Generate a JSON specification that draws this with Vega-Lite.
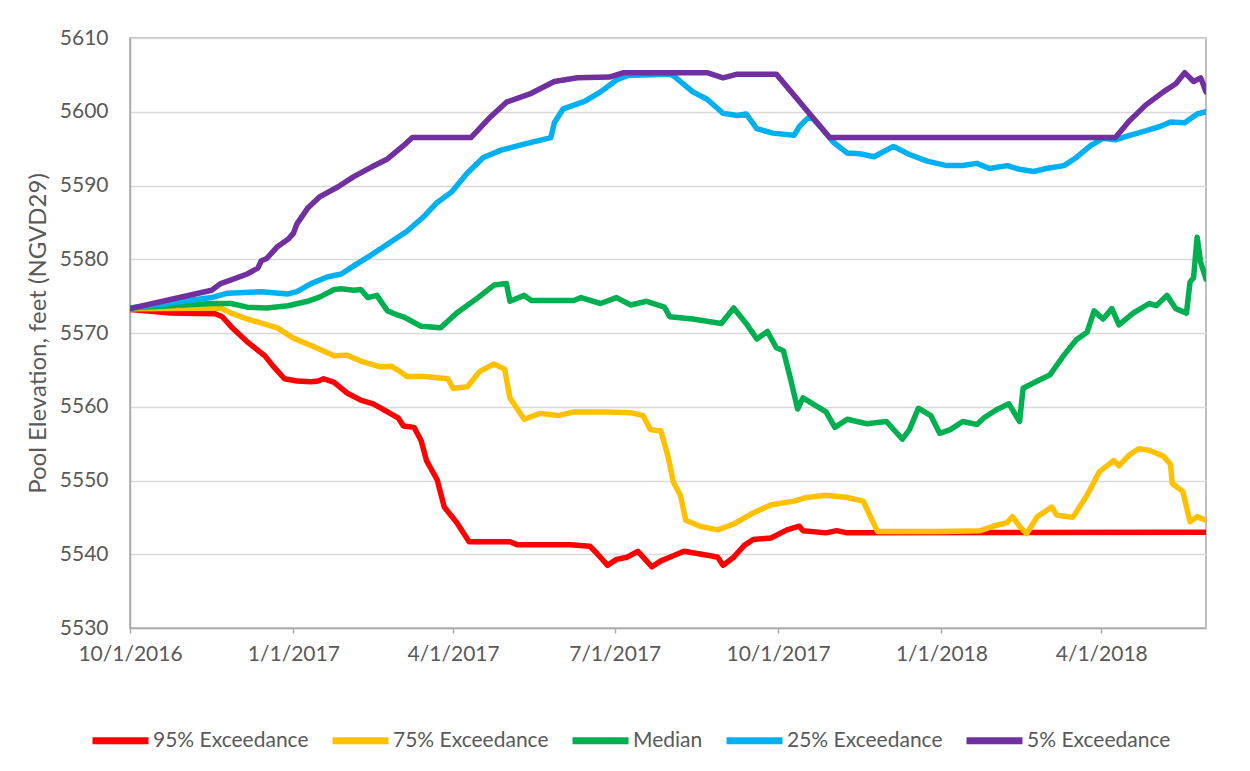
{
  "$schema": "https://vega.github.io/schema/vega-lite/v6.json",
  "width": 1076,
  "height": 590,
  "autosize": {"type": "none"},
  "padding": {"left": 130, "top": 38, "right": 44, "bottom": 143},
  "background": "white",
  "config": {
    "font": "Lato",
    "view": {"stroke": "#ABABAB", "strokeWidth": 1.5}
  },
  "data": {"values": [
    {"series":"95% Exceedance","date":"2016-10-01","elev":5573.2},
    {"series":"95% Exceedance","date":"2016-10-24","elev":5572.7},
    {"series":"95% Exceedance","date":"2016-11-18","elev":5572.6},
    {"series":"95% Exceedance","date":"2016-11-22","elev":5572.2},
    {"series":"95% Exceedance","date":"2016-11-28","elev":5570.6},
    {"series":"95% Exceedance","date":"2016-12-06","elev":5568.8},
    {"series":"95% Exceedance","date":"2016-12-16","elev":5566.9},
    {"series":"95% Exceedance","date":"2016-12-21","elev":5565.4},
    {"series":"95% Exceedance","date":"2016-12-27","elev":5563.8},
    {"series":"95% Exceedance","date":"2017-01-03","elev":5563.5},
    {"series":"95% Exceedance","date":"2017-01-11","elev":5563.4},
    {"series":"95% Exceedance","date":"2017-01-15","elev":5563.5},
    {"series":"95% Exceedance","date":"2017-01-18","elev":5563.8},
    {"series":"95% Exceedance","date":"2017-01-24","elev":5563.3},
    {"series":"95% Exceedance","date":"2017-01-31","elev":5561.9},
    {"series":"95% Exceedance","date":"2017-02-08","elev":5560.9},
    {"series":"95% Exceedance","date":"2017-02-15","elev":5560.4},
    {"series":"95% Exceedance","date":"2017-02-23","elev":5559.3},
    {"series":"95% Exceedance","date":"2017-03-01","elev":5558.5},
    {"series":"95% Exceedance","date":"2017-03-04","elev":5557.4},
    {"series":"95% Exceedance","date":"2017-03-10","elev":5557.2},
    {"series":"95% Exceedance","date":"2017-03-14","elev":5555.4},
    {"series":"95% Exceedance","date":"2017-03-17","elev":5552.7},
    {"series":"95% Exceedance","date":"2017-03-23","elev":5550.1},
    {"series":"95% Exceedance","date":"2017-03-27","elev":5546.4},
    {"series":"95% Exceedance","date":"2017-04-03","elev":5544.3},
    {"series":"95% Exceedance","date":"2017-04-10","elev":5541.7},
    {"series":"95% Exceedance","date":"2017-05-03","elev":5541.7},
    {"series":"95% Exceedance","date":"2017-05-07","elev":5541.3},
    {"series":"95% Exceedance","date":"2017-06-06","elev":5541.3},
    {"series":"95% Exceedance","date":"2017-06-17","elev":5541.1},
    {"series":"95% Exceedance","date":"2017-06-21","elev":5540.1},
    {"series":"95% Exceedance","date":"2017-06-27","elev":5538.5},
    {"series":"95% Exceedance","date":"2017-07-02","elev":5539.3},
    {"series":"95% Exceedance","date":"2017-07-08","elev":5539.6},
    {"series":"95% Exceedance","date":"2017-07-14","elev":5540.4},
    {"series":"95% Exceedance","date":"2017-07-22","elev":5538.3},
    {"series":"95% Exceedance","date":"2017-07-27","elev":5539.1},
    {"series":"95% Exceedance","date":"2017-08-01","elev":5539.6},
    {"series":"95% Exceedance","date":"2017-08-09","elev":5540.4},
    {"series":"95% Exceedance","date":"2017-08-24","elev":5539.8},
    {"series":"95% Exceedance","date":"2017-08-28","elev":5539.6},
    {"series":"95% Exceedance","date":"2017-08-31","elev":5538.5},
    {"series":"95% Exceedance","date":"2017-09-06","elev":5539.6},
    {"series":"95% Exceedance","date":"2017-09-12","elev":5541.2},
    {"series":"95% Exceedance","date":"2017-09-17","elev":5542.0},
    {"series":"95% Exceedance","date":"2017-09-27","elev":5542.2},
    {"series":"95% Exceedance","date":"2017-10-06","elev":5543.3},
    {"series":"95% Exceedance","date":"2017-10-13","elev":5543.8},
    {"series":"95% Exceedance","date":"2017-10-15","elev":5543.2},
    {"series":"95% Exceedance","date":"2017-10-28","elev":5542.9},
    {"series":"95% Exceedance","date":"2017-11-03","elev":5543.2},
    {"series":"95% Exceedance","date":"2017-11-09","elev":5542.9},
    {"series":"95% Exceedance","date":"2018-05-30","elev":5543.0},

    {"series":"75% Exceedance","date":"2016-10-01","elev":5573.3},
    {"series":"75% Exceedance","date":"2016-11-21","elev":5573.4},
    {"series":"75% Exceedance","date":"2016-11-27","elev":5572.7},
    {"series":"75% Exceedance","date":"2016-12-06","elev":5571.9},
    {"series":"75% Exceedance","date":"2016-12-16","elev":5571.2},
    {"series":"75% Exceedance","date":"2016-12-23","elev":5570.7},
    {"series":"75% Exceedance","date":"2017-01-01","elev":5569.3},
    {"series":"75% Exceedance","date":"2017-01-11","elev":5568.3},
    {"series":"75% Exceedance","date":"2017-01-24","elev":5566.9},
    {"series":"75% Exceedance","date":"2017-01-31","elev":5567.0},
    {"series":"75% Exceedance","date":"2017-02-08","elev":5566.2},
    {"series":"75% Exceedance","date":"2017-02-19","elev":5565.4},
    {"series":"75% Exceedance","date":"2017-02-25","elev":5565.5},
    {"series":"75% Exceedance","date":"2017-03-02","elev":5564.8},
    {"series":"75% Exceedance","date":"2017-03-06","elev":5564.1},
    {"series":"75% Exceedance","date":"2017-03-16","elev":5564.1},
    {"series":"75% Exceedance","date":"2017-03-29","elev":5563.8},
    {"series":"75% Exceedance","date":"2017-04-01","elev":5562.5},
    {"series":"75% Exceedance","date":"2017-04-09","elev":5562.7},
    {"series":"75% Exceedance","date":"2017-04-16","elev":5564.8},
    {"series":"75% Exceedance","date":"2017-04-24","elev":5565.8},
    {"series":"75% Exceedance","date":"2017-04-30","elev":5565.1},
    {"series":"75% Exceedance","date":"2017-05-03","elev":5561.2},
    {"series":"75% Exceedance","date":"2017-05-11","elev":5558.3},
    {"series":"75% Exceedance","date":"2017-05-20","elev":5559.1},
    {"series":"75% Exceedance","date":"2017-05-30","elev":5558.8},
    {"series":"75% Exceedance","date":"2017-06-08","elev":5559.3},
    {"series":"75% Exceedance","date":"2017-06-27","elev":5559.3},
    {"series":"75% Exceedance","date":"2017-07-10","elev":5559.2},
    {"series":"75% Exceedance","date":"2017-07-17","elev":5558.8},
    {"series":"75% Exceedance","date":"2017-07-21","elev":5556.9},
    {"series":"75% Exceedance","date":"2017-07-27","elev":5556.7},
    {"series":"75% Exceedance","date":"2017-07-31","elev":5553.3},
    {"series":"75% Exceedance","date":"2017-08-03","elev":5549.8},
    {"series":"75% Exceedance","date":"2017-08-07","elev":5548.0},
    {"series":"75% Exceedance","date":"2017-08-10","elev":5544.6},
    {"series":"75% Exceedance","date":"2017-08-18","elev":5543.8},
    {"series":"75% Exceedance","date":"2017-08-28","elev":5543.3},
    {"series":"75% Exceedance","date":"2017-09-06","elev":5544.1},
    {"series":"75% Exceedance","date":"2017-09-17","elev":5545.6},
    {"series":"75% Exceedance","date":"2017-09-27","elev":5546.7},
    {"series":"75% Exceedance","date":"2017-10-10","elev":5547.2},
    {"series":"75% Exceedance","date":"2017-10-17","elev":5547.7},
    {"series":"75% Exceedance","date":"2017-10-28","elev":5548.0},
    {"series":"75% Exceedance","date":"2017-11-09","elev":5547.7},
    {"series":"75% Exceedance","date":"2017-11-18","elev":5547.2},
    {"series":"75% Exceedance","date":"2017-11-22","elev":5545.1},
    {"series":"75% Exceedance","date":"2017-11-26","elev":5543.1},
    {"series":"75% Exceedance","date":"2017-12-31","elev":5543.1},
    {"series":"75% Exceedance","date":"2018-01-23","elev":5543.2},
    {"series":"75% Exceedance","date":"2018-01-30","elev":5543.8},
    {"series":"75% Exceedance","date":"2018-02-07","elev":5544.3},
    {"series":"75% Exceedance","date":"2018-02-10","elev":5545.1},
    {"series":"75% Exceedance","date":"2018-02-14","elev":5543.8},
    {"series":"75% Exceedance","date":"2018-02-18","elev":5542.8},
    {"series":"75% Exceedance","date":"2018-02-24","elev":5545.1},
    {"series":"75% Exceedance","date":"2018-03-01","elev":5545.9},
    {"series":"75% Exceedance","date":"2018-03-04","elev":5546.4},
    {"series":"75% Exceedance","date":"2018-03-07","elev":5545.3},
    {"series":"75% Exceedance","date":"2018-03-16","elev":5545.0},
    {"series":"75% Exceedance","date":"2018-03-24","elev":5548.0},
    {"series":"75% Exceedance","date":"2018-03-31","elev":5551.2},
    {"series":"75% Exceedance","date":"2018-04-08","elev":5552.7},
    {"series":"75% Exceedance","date":"2018-04-11","elev":5552.0},
    {"series":"75% Exceedance","date":"2018-04-17","elev":5553.5},
    {"series":"75% Exceedance","date":"2018-04-22","elev":5554.3},
    {"series":"75% Exceedance","date":"2018-04-28","elev":5554.1},
    {"series":"75% Exceedance","date":"2018-05-06","elev":5553.3},
    {"series":"75% Exceedance","date":"2018-05-10","elev":5552.2},
    {"series":"75% Exceedance","date":"2018-05-11","elev":5549.6},
    {"series":"75% Exceedance","date":"2018-05-17","elev":5548.5},
    {"series":"75% Exceedance","date":"2018-05-20","elev":5545.4},
    {"series":"75% Exceedance","date":"2018-05-21","elev":5544.4},
    {"series":"75% Exceedance","date":"2018-05-25","elev":5545.1},
    {"series":"75% Exceedance","date":"2018-05-30","elev":5544.6},

    {"series":"Median","date":"2016-10-01","elev":5573.4},
    {"series":"Median","date":"2016-11-16","elev":5574.0},
    {"series":"Median","date":"2016-11-27","elev":5574.0},
    {"series":"Median","date":"2016-12-06","elev":5573.5},
    {"series":"Median","date":"2016-12-17","elev":5573.4},
    {"series":"Median","date":"2016-12-29","elev":5573.7},
    {"series":"Median","date":"2017-01-09","elev":5574.3},
    {"series":"Median","date":"2017-01-16","elev":5574.9},
    {"series":"Median","date":"2017-01-24","elev":5575.9},
    {"series":"Median","date":"2017-01-28","elev":5576.0},
    {"series":"Median","date":"2017-02-04","elev":5575.8},
    {"series":"Median","date":"2017-02-08","elev":5575.9},
    {"series":"Median","date":"2017-02-12","elev":5574.8},
    {"series":"Median","date":"2017-02-17","elev":5575.1},
    {"series":"Median","date":"2017-02-23","elev":5573.0},
    {"series":"Median","date":"2017-02-28","elev":5572.5},
    {"series":"Median","date":"2017-03-04","elev":5572.2},
    {"series":"Median","date":"2017-03-14","elev":5570.9},
    {"series":"Median","date":"2017-03-25","elev":5570.7},
    {"series":"Median","date":"2017-04-03","elev":5572.7},
    {"series":"Median","date":"2017-04-15","elev":5574.8},
    {"series":"Median","date":"2017-04-24","elev":5576.5},
    {"series":"Median","date":"2017-05-01","elev":5576.7},
    {"series":"Median","date":"2017-05-03","elev":5574.3},
    {"series":"Median","date":"2017-05-11","elev":5575.1},
    {"series":"Median","date":"2017-05-15","elev":5574.4},
    {"series":"Median","date":"2017-06-08","elev":5574.4},
    {"series":"Median","date":"2017-06-12","elev":5574.8},
    {"series":"Median","date":"2017-06-23","elev":5574.0},
    {"series":"Median","date":"2017-07-02","elev":5574.8},
    {"series":"Median","date":"2017-07-10","elev":5573.8},
    {"series":"Median","date":"2017-07-19","elev":5574.3},
    {"series":"Median","date":"2017-07-29","elev":5573.5},
    {"series":"Median","date":"2017-08-01","elev":5572.2},
    {"series":"Median","date":"2017-08-14","elev":5571.9},
    {"series":"Median","date":"2017-08-30","elev":5571.3},
    {"series":"Median","date":"2017-09-06","elev":5573.4},
    {"series":"Median","date":"2017-09-13","elev":5571.3},
    {"series":"Median","date":"2017-09-19","elev":5569.2},
    {"series":"Median","date":"2017-09-25","elev":5570.2},
    {"series":"Median","date":"2017-09-30","elev":5568.0},
    {"series":"Median","date":"2017-10-04","elev":5567.6},
    {"series":"Median","date":"2017-10-08","elev":5563.8},
    {"series":"Median","date":"2017-10-12","elev":5559.7},
    {"series":"Median","date":"2017-10-15","elev":5561.2},
    {"series":"Median","date":"2017-10-28","elev":5559.3},
    {"series":"Median","date":"2017-11-02","elev":5557.2},
    {"series":"Median","date":"2017-11-09","elev":5558.3},
    {"series":"Median","date":"2017-11-20","elev":5557.7},
    {"series":"Median","date":"2017-12-01","elev":5558.0},
    {"series":"Median","date":"2017-12-10","elev":5555.6},
    {"series":"Median","date":"2017-12-14","elev":5556.9},
    {"series":"Median","date":"2017-12-19","elev":5559.8},
    {"series":"Median","date":"2017-12-26","elev":5558.8},
    {"series":"Median","date":"2017-12-31","elev":5556.4},
    {"series":"Median","date":"2018-01-06","elev":5556.9},
    {"series":"Median","date":"2018-01-13","elev":5558.0},
    {"series":"Median","date":"2018-01-21","elev":5557.6},
    {"series":"Median","date":"2018-01-25","elev":5558.5},
    {"series":"Median","date":"2018-02-01","elev":5559.6},
    {"series":"Median","date":"2018-02-08","elev":5560.4},
    {"series":"Median","date":"2018-02-14","elev":5558.0},
    {"series":"Median","date":"2018-02-16","elev":5562.5},
    {"series":"Median","date":"2018-02-24","elev":5563.5},
    {"series":"Median","date":"2018-03-03","elev":5564.3},
    {"series":"Median","date":"2018-03-11","elev":5567.0},
    {"series":"Median","date":"2018-03-18","elev":5569.1},
    {"series":"Median","date":"2018-03-24","elev":5570.1},
    {"series":"Median","date":"2018-03-28","elev":5573.0},
    {"series":"Median","date":"2018-04-02","elev":5571.9},
    {"series":"Median","date":"2018-04-07","elev":5573.3},
    {"series":"Median","date":"2018-04-11","elev":5571.1},
    {"series":"Median","date":"2018-04-19","elev":5572.7},
    {"series":"Median","date":"2018-04-28","elev":5574.0},
    {"series":"Median","date":"2018-05-02","elev":5573.7},
    {"series":"Median","date":"2018-05-08","elev":5575.1},
    {"series":"Median","date":"2018-05-13","elev":5573.3},
    {"series":"Median","date":"2018-05-19","elev":5572.7},
    {"series":"Median","date":"2018-05-21","elev":5576.9},
    {"series":"Median","date":"2018-05-23","elev":5577.5},
    {"series":"Median","date":"2018-05-25","elev":5583.0},
    {"series":"Median","date":"2018-05-27","elev":5579.6},
    {"series":"Median","date":"2018-05-30","elev":5577.3},

    {"series":"25% Exceedance","date":"2016-10-01","elev":5573.4},
    {"series":"25% Exceedance","date":"2016-11-16","elev":5574.8},
    {"series":"25% Exceedance","date":"2016-11-25","elev":5575.4},
    {"series":"25% Exceedance","date":"2016-12-14","elev":5575.6},
    {"series":"25% Exceedance","date":"2016-12-29","elev":5575.3},
    {"series":"25% Exceedance","date":"2017-01-03","elev":5575.6},
    {"series":"25% Exceedance","date":"2017-01-11","elev":5576.7},
    {"series":"25% Exceedance","date":"2017-01-20","elev":5577.6},
    {"series":"25% Exceedance","date":"2017-01-28","elev":5578.0},
    {"series":"25% Exceedance","date":"2017-02-04","elev":5579.1},
    {"series":"25% Exceedance","date":"2017-02-14","elev":5580.6},
    {"series":"25% Exceedance","date":"2017-02-24","elev":5582.2},
    {"series":"25% Exceedance","date":"2017-03-06","elev":5583.8},
    {"series":"25% Exceedance","date":"2017-03-16","elev":5585.9},
    {"series":"25% Exceedance","date":"2017-03-23","elev":5587.7},
    {"series":"25% Exceedance","date":"2017-03-31","elev":5589.1},
    {"series":"25% Exceedance","date":"2017-04-09","elev":5591.7},
    {"series":"25% Exceedance","date":"2017-04-18","elev":5593.8},
    {"series":"25% Exceedance","date":"2017-04-28","elev":5594.8},
    {"series":"25% Exceedance","date":"2017-05-11","elev":5595.6},
    {"series":"25% Exceedance","date":"2017-05-26","elev":5596.5},
    {"series":"25% Exceedance","date":"2017-05-28","elev":5598.5},
    {"series":"25% Exceedance","date":"2017-06-02","elev":5600.4},
    {"series":"25% Exceedance","date":"2017-06-14","elev":5601.4},
    {"series":"25% Exceedance","date":"2017-06-23","elev":5602.7},
    {"series":"25% Exceedance","date":"2017-07-02","elev":5604.3},
    {"series":"25% Exceedance","date":"2017-07-08","elev":5604.9},
    {"series":"25% Exceedance","date":"2017-08-01","elev":5605.1},
    {"series":"25% Exceedance","date":"2017-08-03","elev":5604.9},
    {"series":"25% Exceedance","date":"2017-08-14","elev":5602.7},
    {"series":"25% Exceedance","date":"2017-08-22","elev":5601.7},
    {"series":"25% Exceedance","date":"2017-08-31","elev":5599.8},
    {"series":"25% Exceedance","date":"2017-09-08","elev":5599.5},
    {"series":"25% Exceedance","date":"2017-09-13","elev":5599.7},
    {"series":"25% Exceedance","date":"2017-09-19","elev":5597.7},
    {"series":"25% Exceedance","date":"2017-09-28","elev":5597.1},
    {"series":"25% Exceedance","date":"2017-10-10","elev":5596.8},
    {"series":"25% Exceedance","date":"2017-10-13","elev":5598.0},
    {"series":"25% Exceedance","date":"2017-10-18","elev":5599.2},
    {"series":"25% Exceedance","date":"2017-10-21","elev":5599.0},
    {"series":"25% Exceedance","date":"2017-10-30","elev":5596.5},
    {"series":"25% Exceedance","date":"2017-11-01","elev":5595.9},
    {"series":"25% Exceedance","date":"2017-11-09","elev":5594.4},
    {"series":"25% Exceedance","date":"2017-11-16","elev":5594.3},
    {"series":"25% Exceedance","date":"2017-11-24","elev":5593.9},
    {"series":"25% Exceedance","date":"2017-12-05","elev":5595.3},
    {"series":"25% Exceedance","date":"2017-12-14","elev":5594.2},
    {"series":"25% Exceedance","date":"2017-12-24","elev":5593.3},
    {"series":"25% Exceedance","date":"2018-01-04","elev":5592.7},
    {"series":"25% Exceedance","date":"2018-01-13","elev":5592.7},
    {"series":"25% Exceedance","date":"2018-01-21","elev":5593.0},
    {"series":"25% Exceedance","date":"2018-01-28","elev":5592.3},
    {"series":"25% Exceedance","date":"2018-02-07","elev":5592.7},
    {"series":"25% Exceedance","date":"2018-02-14","elev":5592.2},
    {"series":"25% Exceedance","date":"2018-02-22","elev":5591.9},
    {"series":"25% Exceedance","date":"2018-03-01","elev":5592.3},
    {"series":"25% Exceedance","date":"2018-03-11","elev":5592.7},
    {"series":"25% Exceedance","date":"2018-03-18","elev":5593.8},
    {"series":"25% Exceedance","date":"2018-03-26","elev":5595.4},
    {"series":"25% Exceedance","date":"2018-04-02","elev":5596.4},
    {"series":"25% Exceedance","date":"2018-04-09","elev":5596.2},
    {"series":"25% Exceedance","date":"2018-04-17","elev":5596.8},
    {"series":"25% Exceedance","date":"2018-04-26","elev":5597.4},
    {"series":"25% Exceedance","date":"2018-05-04","elev":5598.0},
    {"series":"25% Exceedance","date":"2018-05-10","elev":5598.6},
    {"series":"25% Exceedance","date":"2018-05-18","elev":5598.5},
    {"series":"25% Exceedance","date":"2018-05-25","elev":5599.7},
    {"series":"25% Exceedance","date":"2018-05-30","elev":5600.0},

    {"series":"5% Exceedance","date":"2016-10-01","elev":5573.3},
    {"series":"5% Exceedance","date":"2016-11-16","elev":5575.8},
    {"series":"5% Exceedance","date":"2016-11-21","elev":5576.7},
    {"series":"5% Exceedance","date":"2016-11-27","elev":5577.2},
    {"series":"5% Exceedance","date":"2016-12-06","elev":5578.0},
    {"series":"5% Exceedance","date":"2016-12-12","elev":5578.8},
    {"series":"5% Exceedance","date":"2016-12-14","elev":5579.8},
    {"series":"5% Exceedance","date":"2016-12-17","elev":5580.1},
    {"series":"5% Exceedance","date":"2016-12-23","elev":5581.7},
    {"series":"5% Exceedance","date":"2016-12-29","elev":5582.7},
    {"series":"5% Exceedance","date":"2017-01-01","elev":5583.5},
    {"series":"5% Exceedance","date":"2017-01-03","elev":5584.8},
    {"series":"5% Exceedance","date":"2017-01-09","elev":5586.9},
    {"series":"5% Exceedance","date":"2017-01-16","elev":5588.5},
    {"series":"5% Exceedance","date":"2017-01-26","elev":5589.8},
    {"series":"5% Exceedance","date":"2017-02-04","elev":5591.2},
    {"series":"5% Exceedance","date":"2017-02-14","elev":5592.5},
    {"series":"5% Exceedance","date":"2017-02-23","elev":5593.6},
    {"series":"5% Exceedance","date":"2017-03-04","elev":5595.4},
    {"series":"5% Exceedance","date":"2017-03-09","elev":5596.5},
    {"series":"5% Exceedance","date":"2017-04-11","elev":5596.5},
    {"series":"5% Exceedance","date":"2017-04-22","elev":5599.3},
    {"series":"5% Exceedance","date":"2017-05-01","elev":5601.3},
    {"series":"5% Exceedance","date":"2017-05-15","elev":5602.5},
    {"series":"5% Exceedance","date":"2017-05-28","elev":5604.1},
    {"series":"5% Exceedance","date":"2017-06-10","elev":5604.6},
    {"series":"5% Exceedance","date":"2017-06-28","elev":5604.7},
    {"series":"5% Exceedance","date":"2017-07-06","elev":5605.3},
    {"series":"5% Exceedance","date":"2017-08-22","elev":5605.3},
    {"series":"5% Exceedance","date":"2017-08-31","elev":5604.6},
    {"series":"5% Exceedance","date":"2017-09-08","elev":5605.1},
    {"series":"5% Exceedance","date":"2017-09-30","elev":5605.1},
    {"series":"5% Exceedance","date":"2017-10-30","elev":5596.5},
    {"series":"5% Exceedance","date":"2018-04-09","elev":5596.5},
    {"series":"5% Exceedance","date":"2018-04-17","elev":5598.8},
    {"series":"5% Exceedance","date":"2018-04-26","elev":5600.9},
    {"series":"5% Exceedance","date":"2018-05-06","elev":5602.7},
    {"series":"5% Exceedance","date":"2018-05-13","elev":5603.8},
    {"series":"5% Exceedance","date":"2018-05-18","elev":5605.3},
    {"series":"5% Exceedance","date":"2018-05-23","elev":5604.1},
    {"series":"5% Exceedance","date":"2018-05-27","elev":5604.6},
    {"series":"5% Exceedance","date":"2018-05-30","elev":5602.7}
  ]},
  "mark": {"type": "line", "strokeWidth": 5.5, "strokeJoin": "round", "strokeCap": "round", "clip": true},
  "encoding": {
    "x": {
      "field": "date",
      "type": "temporal",
      "scale": {"type": "utc", "domain": [{"year": 2016, "month": 10, "date": 1, "utc": true}, {"year": 2018, "month": 5, "date": 30, "utc": true}], "nice": false},
      "axis": {
        "title": null,
        "values": [
          {"year": 2016, "month": 10, "date": 1, "utc": true},
          {"year": 2017, "month": 1, "date": 1, "utc": true},
          {"year": 2017, "month": 4, "date": 1, "utc": true},
          {"year": 2017, "month": 7, "date": 1, "utc": true},
          {"year": 2017, "month": 10, "date": 1, "utc": true},
          {"year": 2018, "month": 1, "date": 1, "utc": true},
          {"year": 2018, "month": 4, "date": 1, "utc": true}
        ],
        "labelExpr": "utcFormat(datum.value, '%-m/%-d/%Y')",
        "grid": false,
        "domainColor": "#ABABAB",
        "domainWidth": 1.5,
        "tickColor": "#ABABAB",
        "tickSize": 5,
        "tickWidth": 1.5,
        "labelFont": "Lato",
        "labelFontSize": 21,
        "labelColor": "#595959",
        "labelPadding": 10,
        "labelFlush": false,
        "labelOverlap": false
      }
    },
    "y": {
      "field": "elev",
      "type": "quantitative",
      "scale": {"domain": [5530, 5610], "nice": false, "zero": false},
      "axis": {
        "title": "Pool Elevation, feet (NGVD29)",
        "titleFont": "Lato",
        "titleFontSize": 24,
        "titleFontWeight": "normal",
        "titleColor": "#595959",
        "titlePadding": 9,
        "values": [5530, 5540, 5550, 5560, 5570, 5580, 5590, 5600, 5610],
        "format": "d",
        "grid": true,
        "gridColor": "#D9D9D9",
        "gridWidth": 1.5,
        "domainColor": "#ABABAB",
        "domainWidth": 1.5,
        "ticks": false,
        "labelFont": "Lato",
        "labelFontSize": 21,
        "labelColor": "#595959",
        "labelPadding": 22
      }
    },
    "color": {
      "field": "series",
      "type": "nominal",
      "sort": ["95% Exceedance", "75% Exceedance", "Median", "25% Exceedance", "5% Exceedance"],
      "scale": {
        "domain": ["95% Exceedance", "75% Exceedance", "Median", "25% Exceedance", "5% Exceedance"],
        "range": ["#FF0000", "#FFC000", "#00B050", "#00B0F0", "#7030A0"]
      },
      "legend": {
        "title": null,
        "orient": "none",
        "direction": "horizontal",
        "legendX": -41,
        "legendY": 671,
        "symbolType": "stroke",
        "symbolSize": 3136,
        "symbolStrokeWidth": 7,
        "labelFont": "Lato",
        "labelFontSize": 21,
        "labelColor": "#595959",
        "labelOffset": 1,
        "labelLimit": 300,
        "columnPadding": 9
      }
    }
  }
}
